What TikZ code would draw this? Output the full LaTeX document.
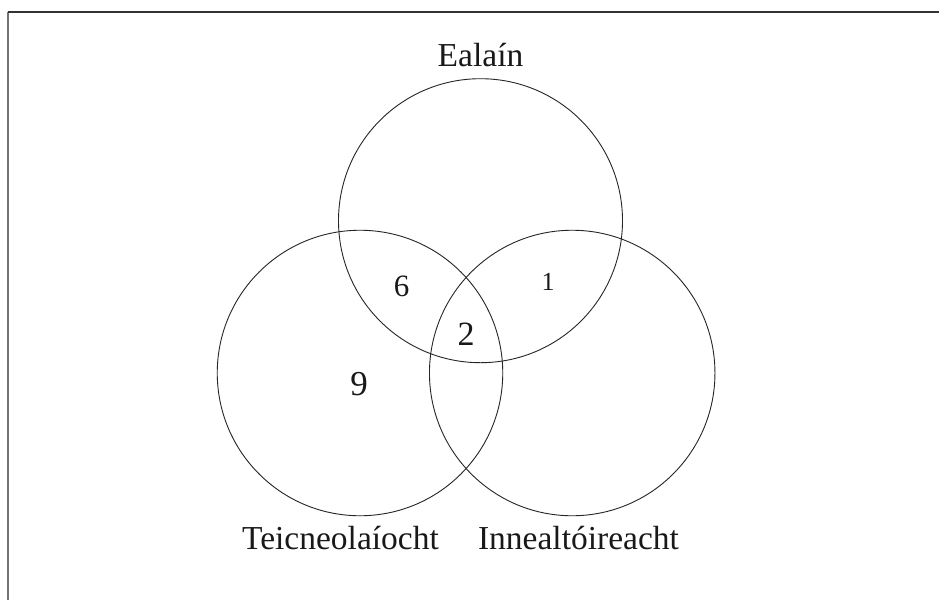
\documentclass[tikz,border=0pt]{standalone}
\usepackage{fontspec}
\setmainfont{Liberation Serif}
\begin{document}
\begin{tikzpicture}[x=1pt,y=-1pt,
  ring/.style={draw=black!85, line width=0.9pt},
  lbl/.style={anchor=base, inner sep=0pt, text=black!90, font=\fontsize{33.5}{40}\selectfont},
  num/.style={anchor=base, inner sep=0pt, text=black!90}]
\useasboundingbox (0,0) rectangle (939,600);
\fill[white] (0,0) rectangle (939,600);
\draw[black!55, line width=1.5pt] (8,600) -- (8,12);
\draw[black!80, line width=1.5pt] (8,12) -- (939,12);
\node[ring, circle, minimum size=284pt, inner sep=0pt] (art) at (480.5,220.7) {};
\node[ring, circle, minimum size=285.5pt, inner sep=0pt] (tech) at (360,373) {};
\node[ring, circle, minimum size=285.5pt, inner sep=0pt] (eng) at (572.2,373) {};
\node[lbl] (lart) at (480.5,66) {Ealaín};
\node[lbl] (ltech) at (340.5,549) {Teicneolaíocht};
\node[lbl] (leng) at (578.5,549) {Innealtóireacht};
\node[num, font=\fontsize{31}{36}\selectfont] (n6) at (401.5,296) {6};
\node[num, font=\fontsize{26}{30}\selectfont] (n1) at (548,290.7) {1};
\node[num, font=\fontsize{34}{40}\selectfont] (n2) at (466,345) {2};
\node[num, font=\fontsize{35}{40}\selectfont] (n9) at (359,395) {9};
\end{tikzpicture}
\end{document}
